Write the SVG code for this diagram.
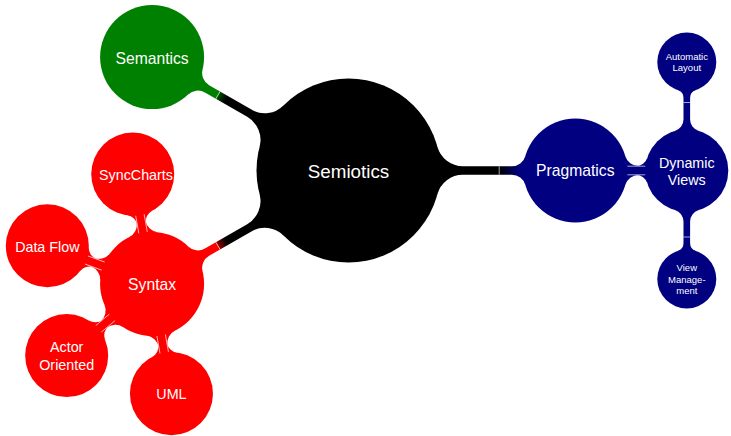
<svg xmlns="http://www.w3.org/2000/svg" xmlns:xlink="http://www.w3.org/1999/xlink" width="731" height="436" viewBox="0 0 731 436">
  <style>
    .lbl { fill: #ffffff; font-family: "Liberation Sans", Arial, Helvetica, sans-serif; text-anchor: middle; dominant-baseline: central; }
    .root { font-size: 18.8px; }
    .l1 { font-size: 15.7px; }
    .l2 { font-size: 14.3px; }
    .l3 { font-size: 9.5px; }
    .seam { stroke: #ffffff; stroke-width: 0.8; opacity: 0.8; fill: none; }
    .black { fill: #000000; }
    .green { fill: #008000; }
    .red { fill: #ff0000; }
    .navy { fill: #000080; }
  </style>
  <defs>
    <!-- connection bars, drawn along +x from the parent centre (0,0) to the child centre -->
    <!-- root (r 92) to level 1 (r 52), length 226.8 -->
    <path id="barA" d="M88.84,-23.89 A26.6,26.6 0 0 0 114.53,-4.2 L114.53,4.2 A26.6,26.6 0 0 0 88.84,23.89 Z
                       M114.53,-4.2 H163.36 V4.2 H114.53 Z
                       M176.82,-14.34 L176.82,14.34 A14,14 0 0 0 163.36,4.2 L163.36,-4.2 A14,14 0 0 0 176.82,-14.34 Z"/>
    <!-- level 1 (r 52) to level 2 (r 41.5), length 111.5 -->
    <path id="barB" d="M49.92,-14.58 A14,14 0 0 0 63.35,-4.5 L63.35,4.5 A14,14 0 0 0 49.92,14.58 Z
                       M71.94,-12.53 L71.94,12.53 A11.5,11.5 0 0 0 60.97,4.5 L60.97,-4.5 A11.5,11.5 0 0 0 71.94,-12.53 Z"/>
    <path id="seamB" d="M52,-4.3 H70 M52,4.3 H70"/>
    <!-- level 2 (r 41.5) to level 3 (r 29.5), length 108.5 -->
    <path id="barC" d="M39.80,-11.76 A11.8,11.8 0 0 0 51.12,-3.3 L51.12,3.3 A11.8,11.8 0 0 0 39.80,11.76 Z
                       M51.12,-3.3 H72.52 V3.3 H51.12 Z
                       M80.42,-9.05 L80.42,9.05 A8.3,8.3 0 0 0 72.52,3.3 L72.52,-3.3 A8.3,8.3 0 0 0 80.42,-9.05 Z"/>
    <!-- colour switch along the root bars -->
    <linearGradient id="toGreen" gradientUnits="userSpaceOnUse" x1="141" y1="0" x2="153" y2="0">
      <stop offset="0" stop-color="#000000"/>
      <stop offset="0.8" stop-color="#004d00"/>
      <stop offset="0.81" stop-color="#008000"/>
      <stop offset="1" stop-color="#008000"/>
    </linearGradient>
    <linearGradient id="toRed" gradientUnits="userSpaceOnUse" x1="141" y1="0" x2="153" y2="0">
      <stop offset="0" stop-color="#000000"/>
      <stop offset="0.8" stop-color="#990000"/>
      <stop offset="0.81" stop-color="#ff0000"/>
      <stop offset="1" stop-color="#ff0000"/>
    </linearGradient>
    <linearGradient id="toNavy" gradientUnits="userSpaceOnUse" x1="150.7" y1="0" x2="171.5" y2="0">
      <stop offset="0" stop-color="#000000"/>
      <stop offset="1" stop-color="#000080"/>
    </linearGradient>
  </defs>

  <g id="connectors">
    <!-- Semiotics to its three branches -->
    <g transform="translate(348.5,170.5) rotate(-150)">
      <use xlink:href="#barA" fill="url(#toGreen)"/>
      <line class="seam" x1="150.7" y1="-4.2" x2="150.7" y2="4.2"/>
    </g>
    <g transform="translate(348.5,170.5) rotate(150)">
      <use xlink:href="#barA" fill="url(#toRed)"/>
      <line class="seam" x1="150.7" y1="-4.2" x2="150.7" y2="4.2"/>
    </g>
    <g transform="translate(348.5,170.5)">
      <use xlink:href="#barA" fill="url(#toNavy)"/>
      <line class="seam" x1="150.7" y1="-4.2" x2="150.7" y2="4.2"/>
    </g>
    <!-- Syntax to its four children -->
    <g transform="translate(152.09,283.9) rotate(-100)">
      <use xlink:href="#barB" class="red"/>
      <use xlink:href="#seamB" class="seam"/>
    </g>
    <g transform="translate(152.09,283.9) rotate(-160)">
      <use xlink:href="#barB" class="red"/>
      <use xlink:href="#seamB" class="seam"/>
    </g>
    <g transform="translate(152.09,283.9) rotate(140)">
      <use xlink:href="#barB" class="red"/>
      <use xlink:href="#seamB" class="seam"/>
    </g>
    <g transform="translate(152.09,283.9) rotate(80)">
      <use xlink:href="#barB" class="red"/>
      <use xlink:href="#seamB" class="seam"/>
    </g>
    <!-- Pragmatics to Dynamic Views -->
    <g transform="translate(575.3,170.5)">
      <use xlink:href="#barB" class="navy"/>
      <use xlink:href="#seamB" class="seam"/>
    </g>
    <!-- Dynamic Views to its two children -->
    <g transform="translate(686.8,170.5) rotate(-90)">
      <use xlink:href="#barC" class="navy"/>
      <line class="seam" x1="68" y1="-3.3" x2="68" y2="3.3"/>
    </g>
    <g transform="translate(686.8,170.5) rotate(90)">
      <use xlink:href="#barC" class="navy"/>
      <line class="seam" x1="66.5" y1="-3.3" x2="66.5" y2="3.3"/>
    </g>
  </g>

  <g id="semiotics">
    <circle class="black" cx="348.5" cy="170.5" r="92"/>
    <text class="lbl root" x="348.5" y="171.5">Semiotics</text>
  </g>
  <g id="semantics">
    <circle class="green" cx="152.09" cy="57.1" r="52"/>
    <text class="lbl l1" x="152.09" y="58">Semantics</text>
  </g>
  <g id="syntax">
    <circle class="red" cx="152.09" cy="283.9" r="52"/>
    <text class="lbl l1" x="152.09" y="284">Syntax</text>
  </g>
  <g id="pragmatics">
    <circle class="navy" cx="575.3" cy="170.5" r="52"/>
    <text class="lbl l1" x="575.3" y="170.5">Pragmatics</text>
  </g>
  <g id="syncCharts">
    <circle class="red" cx="132.73" cy="174.09" r="41.5"/>
    <text class="lbl l2" x="136" y="175">SyncCharts</text>
  </g>
  <g id="dataFlow">
    <circle class="red" cx="47.31" cy="245.76" r="41.5"/>
    <text class="lbl l2" x="47.31" y="246.5">Data Flow</text>
  </g>
  <g id="actorOriented">
    <circle class="red" cx="66.68" cy="355.57" r="41.5"/>
    <text class="lbl l2" x="66.68" y="347.3">Actor</text>
    <text class="lbl l2" x="66.68" y="364.5">Oriented</text>
  </g>
  <g id="uml">
    <circle class="red" cx="171.45" cy="393.71" r="41.5"/>
    <text class="lbl l2" x="171.45" y="393.7">UML</text>
  </g>
  <g id="dynamicViews">
    <circle class="navy" cx="686.8" cy="170.5" r="41.5"/>
    <text class="lbl l2" x="686.8" y="162.5">Dynamic</text>
    <text class="lbl l2" x="686.8" y="180">Views</text>
  </g>
  <g id="automaticLayout">
    <circle class="navy" cx="686.8" cy="62" r="29.5"/>
    <text class="lbl l3" x="686.8" y="56">Automatic</text>
    <text class="lbl l3" x="686.8" y="67">Layout</text>
  </g>
  <g id="viewManagement">
    <circle class="navy" cx="686.8" cy="279" r="29.5"/>
    <text class="lbl l3" x="686.8" y="267.5">View</text>
    <text class="lbl l3" x="686.8" y="279.2">Manage-</text>
    <text class="lbl l3" x="686.8" y="290.9">ment</text>
  </g>
</svg>
